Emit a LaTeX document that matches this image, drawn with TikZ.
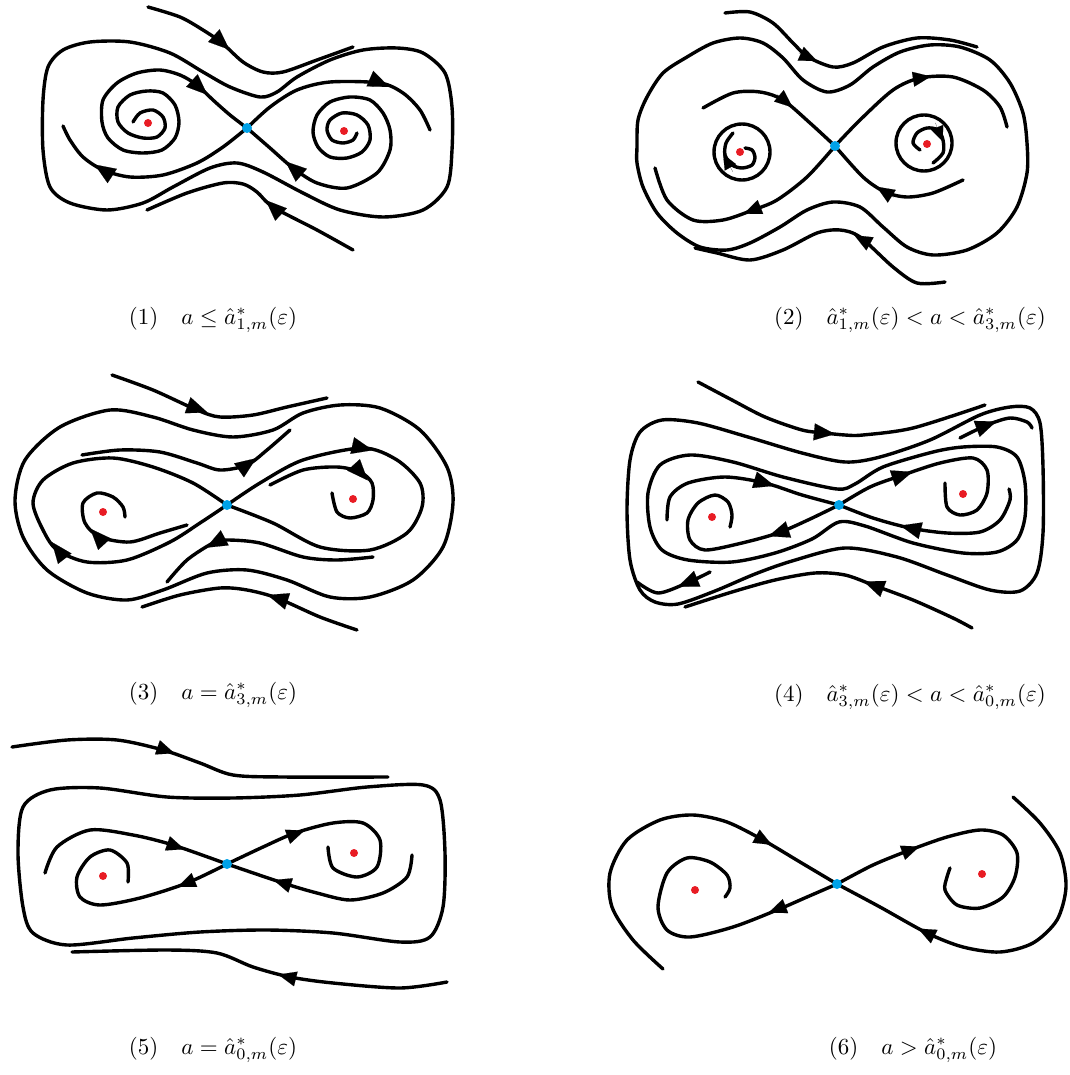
\documentclass[tikz,border=0pt]{standalone}
\usetikzlibrary{arrows.meta,calc}
\definecolor{redfocus}{RGB}{232,28,36}
\definecolor{bluesaddle}{RGB}{0,162,232}
\tikzset{
  traj/.style={line width=3.4pt, line cap=round, line join=round},
  focusdot/.style={circle, fill=redfocus, inner sep=0pt, minimum size=8pt},
  saddledot/.style={circle, fill=bluesaddle, inner sep=0pt, minimum size=10pt},
  caption/.style={inner sep=0pt},
}
\newcommand\arr[3][]{\draw[line width=0.1pt,-{Triangle[length=21pt,width=17pt,#1]}] ($#2!-10pt!#3$) -- ($#2!10pt!#3$);}
\newcommand\capt[1]{\scalebox{2.3}{#1}}
\begin{document}
\begin{tikzpicture}[x=1pt,y=-1pt]
\useasboundingbox (0,0) rectangle (1069,1075);

% ================= Panel 1 =================
\draw[traj] plot[smooth] coordinates {(148,7) (180,17) (203,30) (222,43) (243,62) (263,72) (283,72) (317,60) (353,47)};
\arr{(222,43)}{(243,62)}
\draw[traj] plot[smooth] coordinates {(353,250) (317,230) (273,207) (257,192) (243,184) (223,183) (187,193) (147,210)};
\arr{(273,207)}{(257,192)}
\draw[traj] plot[smooth cycle] coordinates {(130,42) (170,53) (203,72) (230,87) (260,97) (277,92) (297,77) (330,60) (363,50) (397,48) (423,53) (445,73) (452,107) (452,150) (447,187) (423,210) (383,217) (340,210) (303,193) (263,172) (237,163) (210,168) (173,187) (143,203) (107,210) (70,203) (50,187) (43,150) (43,100) (48,67) (63,50) (90,42)};
\draw[traj] plot[smooth] coordinates {(247,128) (223,147) (197,163) (163,175) (130,177) (103,170) (83,157) (70,140) (63,126)};
\arr{(103,170)}{(83,157)}
\draw[traj] plot[smooth] coordinates {(247,128) (270,107) (297,90) (330,82) (380,83) (403,93) (420,110) (430,130)};
\arr{(380,83)}{(403,93)}
\draw[traj] plot[smooth] coordinates {(133,122) (140,113) (153,110) (163,117) (165,128) (157,137) (143,138) (128,133) (118,122) (118,107) (130,95) (147,91) (163,93) (175,105) (179,122) (175,138) (162,150) (143,153) (123,150) (108,138) (102,122) (103,100) (117,83) (137,73) (160,70) (180,75) (197,85) (213,100) (230,115) (247,128)};
\arr{(200,88)}{(213,100)}
\draw[traj] plot[smooth] coordinates {(357,133) (353,140) (343,143) (332,140) (327,130) (330,120) (342,113) (357,115) (368,125) (370,140) (362,152) (347,158) (330,157) (318,147) (313,132) (317,115) (330,102) (350,97) (370,100) (383,113) (390,130) (390,150) (377,173) (347,188) (317,183) (293,168) (270,148) (247,128)};
\arr{(293,168)}{(270,148)}
\node[focusdot] (f1a) at (148,123) {};
\node[focusdot] (f1b) at (344,131) {};
\node[saddledot] (s1) at (247,128) {};
\node[caption] (c1) at (213,320) {\capt{(1)\quad $a\le\hat a^*_{1,m}(\varepsilon)$}};

% ================= Panel 2 =================
\draw[traj] plot[smooth] coordinates {(725,13) (750,12) (773,23) (793,43) (808,57) (833,67) (853,63) (883,47) (917,38) (950,40) (977,47)};
\arr[length=18pt,width=15pt]{(808,57)}{(826,65)}
\draw[traj] plot[smooth cycle] coordinates {(637,147) (638,120) (647,97) (663,73) (687,57) (713,43) (740,38) (763,43) (783,58) (803,80) (827,92) (850,85) (873,67) (900,52) (930,45) (960,47) (990,60) (1010,83) (1023,113) (1027,143) (1027,173) (1017,207) (997,233) (967,250) (933,255) (907,247) (883,227) (860,207) (833,202) (807,210) (780,227) (750,243) (727,250) (700,247) (677,233) (657,213) (643,187) (637,163)};
\draw[traj] plot[smooth] coordinates {(945,282) (917,283) (893,267) (860,237) (840,230) (817,233) (783,250) (750,260) (717,253) (695,248)};
\arr[length=18pt,width=15pt]{(863,240)}{(845,230)}
\draw[traj] plot[smooth] coordinates {(703,108) (733,93) (760,92) (783,100) (810,123) (835,146)};
\arr[length=18pt,width=15pt]{(785,101)}{(805,118)}
\draw[traj] plot[smooth] coordinates {(835,146) (860,120) (893,90) (920,78) (953,77) (983,90) (1000,107) (1007,127)};
\arr[length=18pt,width=15pt]{(921,78)}{(940,75)}
\draw[traj] plot[smooth] coordinates {(963,180) (933,193) (907,197) (885,192) (863,177) (835,146)};
\arr[length=18pt,width=15pt]{(885,192)}{(866,180)}
\draw[traj] plot[smooth] coordinates {(835,146) (807,177) (777,200) (753,210) (723,220) (693,220) (667,200) (655,168)};
\arr[length=18pt,width=15pt]{(753,210)}{(733,218)}
\draw[traj] (742,152) circle[radius=28];
\draw[traj] (924,143) circle[radius=28];
\draw[traj] plot[smooth] coordinates {(745,148) (752,150) (755,157) (752,165) (742,168) (732,165) (725,155) (726,143) (733,133)};
\arr[length=15pt,width=13pt]{(728,163)}{(723,154)}
\draw[traj] plot[smooth] coordinates {(920,150) (913,143) (917,133) (927,128) (938,130) (943,140) (943,153) (933,163)};
\arr[length=15pt,width=13pt]{(939,132)}{(943,142)}
\node[focusdot] (f2a) at (740,152) {};
\node[focusdot] (f2b) at (927,144) {};
\node[saddledot] (s2) at (835,146) {};
\node[caption] (c2) at (910,320) {\capt{(2)\quad $\hat a^*_{1,m}(\varepsilon)<a<\hat a^*_{3,m}(\varepsilon)$}};

% ================= Panel 3 =================
\draw[traj] plot[smooth] coordinates {(112,375) (153,390) (197,410) (220,417) (253,415) (287,407) (327,398)};
\arr{(198,409)}{(220,417)}
\draw[traj] plot[smooth cycle] coordinates {(110,410) (153,417) (193,430) (233,437) (273,430) (303,413) (340,405) (380,408) (420,430) (447,467) (453,503) (443,547) (413,580) (370,597) (330,597) (287,580) (247,570) (207,573) (163,590) (127,600) (87,593) (47,570) (23,537) (15,500) (25,460) (60,427)};
\draw[traj] plot[smooth] coordinates {(357,630) (320,617) (277,598) (247,590) (220,588) (180,595) (142,607)};
\arr{(277,598)}{(258,592)}
\draw[traj] plot[smooth] coordinates {(227,505) (193,483) (153,467) (113,458) (73,463) (43,480) (33,503) (43,530) (57,550) (87,562) (127,560) (170,542) (200,523) (227,505)};
\arr{(58,550)}{(44,532)}
\draw[traj] plot[smooth] coordinates {(227,505) (260,483) (303,460) (363,448) (397,460) (420,483) (422,507) (407,533) (370,550) (320,547) (273,523) (227,505)};
\arr{(363,448)}{(385,453)}
\draw[traj] plot[smooth] coordinates {(82,455) (120,450) (160,452) (197,463) (220,470) (247,465) (267,450) (290,430)};
\arr{(248,464)}{(265,452)}
\draw[traj] plot[smooth] coordinates {(373,557) (337,560) (303,557) (260,543) (227,540) (213,543) (187,560) (167,582)};
\arr{(215,543)}{(198,552)}
\draw[traj] plot[smooth] coordinates {(187,525) (160,533) (130,542) (100,537) (85,523) (83,503) (97,493) (113,497) (123,507) (125,517)};
\arr{(97,536)}{(86,524)}
\draw[traj] plot[smooth] coordinates {(270,485) (303,470) (337,467) (360,472) (372,483) (373,500) (367,513) (350,518) (337,512) (332,493)};
\arr{(361,473)}{(371,484)}
\node[focusdot] (f3a) at (103,512) {};
\node[focusdot] (f3b) at (353,499) {};
\node[saddledot] (s3) at (227,505) {};
\node[caption] (c3) at (213,695) {\capt{(3)\quad $a=\hat a^*_{3,m}(\varepsilon)$}};

% ================= Panel 4 =================
\draw[traj] plot[smooth] coordinates {(698,382) (732,400) (765,417) (802,430) (825,433) (845,435) (863,435) (913,428) (985,405)};
\arr{(825,433)}{(845,435)}
\draw[traj] plot[smooth] coordinates {(972,628) (953,618) (913,600) (873,585) (845,575) (815,573) (775,580) (732,592) (685,607)};
\arr{(873,585)}{(852,577)}
\draw[traj] plot[smooth cycle] coordinates {(845,462) (802,453) (748,437) (698,423) (662,420) (640,432) (630,460) (627,510) (630,560) (640,590) (655,602) (678,604) (715,591) (755,574) (792,561) (845,548) (897,557) (947,575) (990,590) (1020,591) (1037,573) (1043,533) (1043,467) (1040,423) (1030,408) (1010,407) (980,415) (930,440) (880,457)};
\draw[traj] plot[smooth cycle] coordinates {(837,489) (783,477) (733,462) (690,455) (660,465) (648,493) (650,527) (662,550) (688,560) (732,562) (775,553) (812,539) (839,522) (865,526) (913,543) (963,553) (997,552) (1017,540) (1025,517) (1025,483) (1017,457) (997,447) (963,447) (933,452) (883,467) (855,484)};
\draw[traj] plot[smooth] coordinates {(667,520) (670,497) (688,483) (725,477) (765,483) (802,495) (839,505)};
\arr{(765,483)}{(785,489)}
\draw[traj] plot[smooth] coordinates {(839,505) (808,520) (778,533) (742,543) (705,550) (690,540) (688,520) (698,503) (715,495) (728,502) (732,515) (730,527)};
\arr{(778,533)}{(760,539)}
\draw[traj] plot[smooth] coordinates {(839,505) (870,487) (903,475) (940,463) (973,458) (987,470) (987,493) (977,510) (960,515) (947,507) (945,483)};
\arr{(903,475)}{(921,469)}
\draw[traj] plot[smooth] coordinates {(1009,489) (1010,500) (1000,520) (980,532) (947,533) (910,528) (873,518) (839,505)};
\arr{(910,528)}{(890,523)}
\draw[traj] plot[smooth] coordinates {(960,438) (987,425) (1010,418) (1027,422) (1032,428)};
\arr{(987,425)}{(1003,419)}
\draw[traj] plot[smooth] coordinates {(710,572) (687,583) (658,593) (637,582)};
\arr{(687,583)}{(670,590)}
\node[focusdot] (f4a) at (712,517) {};
\node[focusdot] (f4b) at (963,494) {};
\node[saddledot] (s4) at (839,505) {};
\node[caption] (c4) at (910,697) {\capt{(4)\quad $\hat a^*_{3,m}(\varepsilon)<a<\hat a^*_{0,m}(\varepsilon)$}};

% ================= Panel 5 =================
\draw[traj] plot[smooth] coordinates {(12,747) (67,740) (117,740) (163,750) (200,763) (233,775) (283,777) (388,777)};
\arr[length=18pt,width=15pt]{(165,750)}{(185,757)}
\draw[traj] plot[smooth] coordinates {(447,982) (400,988) (333,983) (290,977) (253,967) (217,953) (167,950) (72,952)};
\arr[length=18pt,width=15pt]{(288,977)}{(268,972)}
\draw[traj] plot[smooth cycle] coordinates {(50,790) (100,788) (167,797) (233,798) (300,795) (367,787) (423,785) (440,800) (445,853) (443,907) (430,937) (400,942) (333,933) (267,930) (200,932) (133,938) (67,945) (33,933) (23,907) (18,853) (23,807)};
\draw[traj] plot[smooth] coordinates {(45,873) (57,847) (90,830) (133,835) (173,845) (227,864)};
\arr[length=18pt,width=15pt]{(175,846)}{(198,854)}
\draw[traj] plot[smooth] coordinates {(227,864) (187,883) (140,898) (100,905) (80,897) (77,877) (90,857) (110,850) (127,863) (128,882)};
\arr[length=18pt,width=15pt]{(187,883)}{(170,890)}
\draw[traj] plot[smooth] coordinates {(227,864) (263,847) (295,833) (333,823) (363,823) (380,840) (377,867) (357,877) (333,868) (328,847)};
\arr[length=18pt,width=15pt]{(295,834)}{(314,827)}
\draw[traj] plot[smooth] coordinates {(412,855) (407,877) (383,893) (350,900) (317,893) (283,883) (227,864)};
\arr[length=18pt,width=15pt]{(283,883)}{(264,877)}
\node[focusdot] (f5a) at (103,876) {};
\node[focusdot] (f5b) at (354,853) {};
\node[saddledot] (s5) at (227,864) {};
\node[caption] (c5) at (213,1050) {\capt{(5)\quad $a=\hat a^*_{0,m}(\varepsilon)$}};

% ================= Panel 6 =================
\draw[traj] plot[smooth] coordinates {(663,969) (633,940) (612,907) (610,873) (627,840) (660,820) (693,815) (727,822) (763,840) (800,862) (837,884)};
\arr[length=18pt,width=15pt]{(763,840)}{(783,851)}
\draw[traj] plot[smooth] coordinates {(837,884) (807,897) (777,910) (733,927) (690,937) (667,930) (658,907) (667,873) (687,858) (710,862) (727,875) (730,888) (725,897)};
\arr[length=18pt,width=15pt]{(778,909)}{(760,916)}
\draw[traj] plot[smooth] coordinates {(837,884) (873,865) (910,850) (947,837) (980,830) (1003,835) (1017,853) (1015,877) (1003,897) (980,908) (957,905) (945,890) (947,877) (950,868)};
\arr[length=18pt,width=15pt]{(910,850)}{(929,843)}
\draw[traj] plot[smooth] coordinates {(1013,797) (1040,823) (1060,853) (1066,887) (1057,920) (1033,943) (1000,952) (963,947) (927,933) (880,907) (837,884)};
\arr[length=18pt,width=15pt]{(927,933)}{(907,923)}
\node[focusdot] (f6a) at (695,890) {};
\node[focusdot] (f6b) at (982,874) {};
\node[saddledot] (s6) at (837,884) {};
\node[caption] (c6) at (913,1050) {\capt{(6)\quad $a>\hat a^*_{0,m}(\varepsilon)$}};
\end{tikzpicture}
\end{document}
